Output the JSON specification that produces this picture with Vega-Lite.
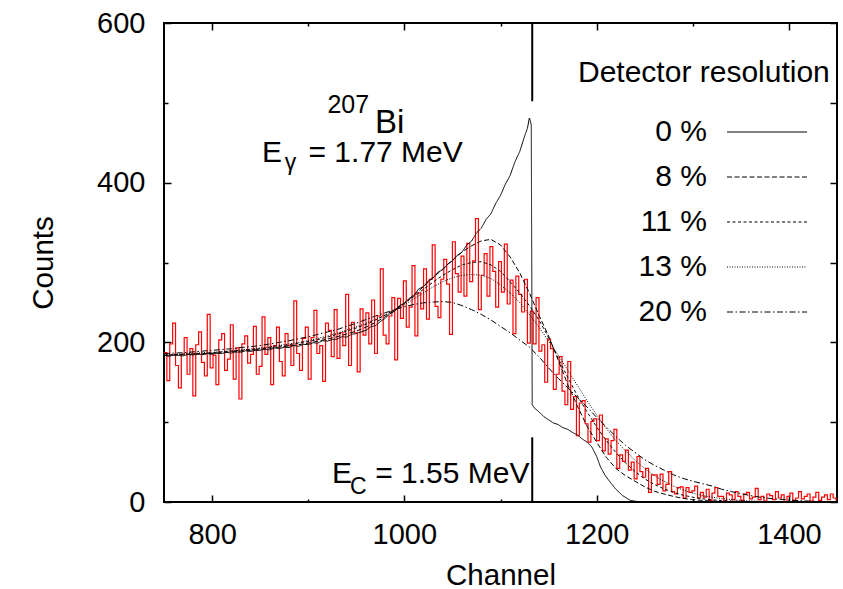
{
"$schema": "https://vega.github.io/schema/vega-lite/v6.json",
"width": 673, "height": 479,
"autosize": {"type": "none"},
"padding": {"left": 164, "top": 23, "right": 6, "bottom": 87},
"background": "white",
"config": {
  "font": "Liberation Sans",
  "view": {"stroke": "black", "strokeWidth": 2},
  "axis": {"grid": false, "domain": false, "tickColor": "black", "tickWidth": 1.5, "labelColor": "black", "labelFontSize": 29, "labelFont": "Liberation Sans", "titleFont": "Liberation Sans", "titleFontSize": 29.5, "titleFontWeight": "normal", "titleColor": "black"}
},
"datasets": {
"measured": [
{"ch":750,"n":187},{"ch":753,"n":152},{"ch":756,"n":198},{"ch":759,"n":224},{"ch":762,"n":171},{"ch":765,"n":143},{"ch":768,"n":185},{"ch":771,"n":206},{"ch":774,"n":160},{"ch":777,"n":192},
{"ch":780,"n":133},{"ch":783,"n":197},{"ch":786,"n":213},{"ch":789,"n":175},{"ch":792,"n":158},{"ch":795,"n":235},{"ch":798,"n":168},{"ch":801,"n":184},{"ch":804,"n":147},{"ch":807,"n":203},
{"ch":810,"n":211},{"ch":813,"n":165},{"ch":816,"n":179},{"ch":819,"n":222},{"ch":822,"n":154},{"ch":825,"n":193},{"ch":828,"n":129},{"ch":831,"n":198},{"ch":834,"n":208},{"ch":837,"n":174},
{"ch":840,"n":185},{"ch":843,"n":220},{"ch":846,"n":160},{"ch":849,"n":170},{"ch":852,"n":232},{"ch":855,"n":185},{"ch":858,"n":206},{"ch":861,"n":147},{"ch":864,"n":196},{"ch":867,"n":219},
{"ch":870,"n":176},{"ch":873,"n":158},{"ch":876,"n":211},{"ch":879,"n":196},{"ch":882,"n":171},{"ch":885,"n":252},{"ch":888,"n":186},{"ch":891,"n":165},{"ch":894,"n":205},{"ch":897,"n":219},
{"ch":900,"n":154},{"ch":903,"n":206},{"ch":906,"n":240},{"ch":909,"n":186},{"ch":912,"n":196},{"ch":915,"n":151},{"ch":918,"n":224},{"ch":921,"n":215},{"ch":924,"n":182},{"ch":927,"n":241},
{"ch":930,"n":180},{"ch":933,"n":212},{"ch":936,"n":196},{"ch":939,"n":260},{"ch":942,"n":171},{"ch":945,"n":225},{"ch":948,"n":212},{"ch":951,"n":163},{"ch":954,"n":242},{"ch":957,"n":209},
{"ch":960,"n":237},{"ch":963,"n":198},{"ch":966,"n":253},{"ch":969,"n":186},{"ch":972,"n":233},{"ch":975,"n":292},{"ch":978,"n":209},{"ch":981,"n":198},{"ch":984,"n":233},{"ch":987,"n":256},
{"ch":990,"n":178},{"ch":993,"n":255},{"ch":996,"n":230},{"ch":999,"n":277},{"ch":1002,"n":219},{"ch":1005,"n":244},{"ch":1008,"n":296},{"ch":1011,"n":208},{"ch":1014,"n":262},{"ch":1017,"n":242},
{"ch":1020,"n":292},{"ch":1023,"n":229},{"ch":1026,"n":279},{"ch":1029,"n":322},{"ch":1032,"n":245},{"ch":1035,"n":231},{"ch":1038,"n":279},{"ch":1041,"n":304},{"ch":1044,"n":273},{"ch":1047,"n":210},
{"ch":1050,"n":326},{"ch":1053,"n":286},{"ch":1056,"n":263},{"ch":1059,"n":308},{"ch":1062,"n":258},{"ch":1065,"n":324},{"ch":1068,"n":276},{"ch":1071,"n":302},{"ch":1074,"n":355},{"ch":1077,"n":241},
{"ch":1080,"n":284},{"ch":1083,"n":311},{"ch":1086,"n":258},{"ch":1089,"n":320},{"ch":1092,"n":289},{"ch":1095,"n":244},{"ch":1098,"n":301},{"ch":1101,"n":263},{"ch":1104,"n":323},{"ch":1107,"n":248},
{"ch":1110,"n":278},{"ch":1113,"n":211},{"ch":1116,"n":283},{"ch":1119,"n":260},{"ch":1122,"n":238},{"ch":1125,"n":279},{"ch":1128,"n":199},{"ch":1131,"n":239},{"ch":1134,"n":198},{"ch":1137,"n":256},
{"ch":1140,"n":189},{"ch":1143,"n":197},{"ch":1146,"n":150},{"ch":1149,"n":204},{"ch":1152,"n":192},{"ch":1155,"n":141},{"ch":1158,"n":160},{"ch":1161,"n":182},{"ch":1164,"n":139},{"ch":1167,"n":122},
{"ch":1170,"n":176},{"ch":1173,"n":116},{"ch":1176,"n":132},{"ch":1179,"n":83},{"ch":1182,"n":124},{"ch":1185,"n":127},{"ch":1188,"n":98},{"ch":1191,"n":75},{"ch":1194,"n":101},{"ch":1197,"n":104},
{"ch":1200,"n":77},{"ch":1203,"n":109},{"ch":1206,"n":64},{"ch":1209,"n":79},{"ch":1212,"n":60},{"ch":1215,"n":77},{"ch":1218,"n":91},{"ch":1221,"n":42},{"ch":1224,"n":59},{"ch":1227,"n":51},
{"ch":1230,"n":65},{"ch":1233,"n":40},{"ch":1236,"n":50},{"ch":1239,"n":29},{"ch":1242,"n":57},{"ch":1245,"n":38},{"ch":1248,"n":31},{"ch":1251,"n":42},{"ch":1254,"n":12},{"ch":1257,"n":34},
{"ch":1260,"n":34},{"ch":1263,"n":22},{"ch":1266,"n":35},{"ch":1269,"n":14},{"ch":1272,"n":22},{"ch":1275,"n":38},{"ch":1278,"n":13},{"ch":1281,"n":10},{"ch":1284,"n":18},{"ch":1287,"n":19},
{"ch":1290,"n":5},{"ch":1293,"n":18},{"ch":1296,"n":12},{"ch":1299,"n":14},{"ch":1302,"n":20},{"ch":1305,"n":5},{"ch":1308,"n":12},{"ch":1311,"n":6},{"ch":1314,"n":16},{"ch":1317,"n":2},
{"ch":1320,"n":11},{"ch":1323,"n":18},{"ch":1326,"n":7},{"ch":1329,"n":7},{"ch":1332,"n":1},{"ch":1335,"n":11},{"ch":1338,"n":9},{"ch":1341,"n":3},{"ch":1344,"n":13},{"ch":1347,"n":7},
{"ch":1350,"n":2},{"ch":1353,"n":10},{"ch":1356,"n":12},{"ch":1359,"n":4},{"ch":1362,"n":6},{"ch":1365,"n":17},{"ch":1368,"n":3},{"ch":1371,"n":7},{"ch":1374,"n":1},{"ch":1377,"n":10},
{"ch":1380,"n":8},{"ch":1383,"n":3},{"ch":1386,"n":13},{"ch":1389,"n":5},{"ch":1392,"n":9},{"ch":1395,"n":0},{"ch":1398,"n":7},{"ch":1401,"n":11},{"ch":1404,"n":2},{"ch":1407,"n":5},
{"ch":1410,"n":13},{"ch":1413,"n":4},{"ch":1416,"n":7},{"ch":1419,"n":10},{"ch":1422,"n":1},{"ch":1425,"n":6},{"ch":1428,"n":12},{"ch":1431,"n":2},{"ch":1434,"n":6},{"ch":1437,"n":9},
{"ch":1440,"n":3},{"ch":1443,"n":10},{"ch":1446,"n":5},{"ch":1449,"n":2}
],
"curves": [
{"ch":750,"n":184,"res":"0 %"},{"ch":755,"n":182.5,"res":"0 %"},{"ch":760,"n":184,"res":"0 %"},{"ch":765,"n":183.5,"res":"0 %"},{"ch":770,"n":183,"res":"0 %"},{"ch":775,"n":185,"res":"0 %"},{"ch":780,"n":184,"res":"0 %"},{"ch":785,"n":185.5,"res":"0 %"},{"ch":790,"n":184.5,"res":"0 %"},{"ch":795,"n":186,"res":"0 %"},
{"ch":800,"n":185,"res":"0 %"},{"ch":805,"n":186.5,"res":"0 %"},{"ch":810,"n":186,"res":"0 %"},{"ch":815,"n":187.5,"res":"0 %"},{"ch":820,"n":186.5,"res":"0 %"},{"ch":825,"n":188,"res":"0 %"},{"ch":830,"n":187.5,"res":"0 %"},{"ch":835,"n":189.5,"res":"0 %"},{"ch":840,"n":188.5,"res":"0 %"},{"ch":845,"n":190,"res":"0 %"},
{"ch":850,"n":190,"res":"0 %"},{"ch":855,"n":191.5,"res":"0 %"},{"ch":860,"n":190.5,"res":"0 %"},{"ch":865,"n":193,"res":"0 %"},{"ch":870,"n":192,"res":"0 %"},{"ch":875,"n":194,"res":"0 %"},{"ch":880,"n":193.5,"res":"0 %"},{"ch":885,"n":196,"res":"0 %"},{"ch":890,"n":195,"res":"0 %"},{"ch":895,"n":197.5,"res":"0 %"},
{"ch":900,"n":197,"res":"0 %"},{"ch":905,"n":199.5,"res":"0 %"},{"ch":910,"n":199,"res":"0 %"},{"ch":915,"n":202,"res":"0 %"},{"ch":920,"n":201.5,"res":"0 %"},{"ch":925,"n":203.5,"res":"0 %"},{"ch":930,"n":204,"res":"0 %"},{"ch":935,"n":207,"res":"0 %"},{"ch":940,"n":206.5,"res":"0 %"},{"ch":945,"n":210,"res":"0 %"},
{"ch":950,"n":211,"res":"0 %"},{"ch":955,"n":213,"res":"0 %"},{"ch":960,"n":215,"res":"0 %"},{"ch":965,"n":219.5,"res":"0 %"},{"ch":970,"n":221,"res":"0 %"},{"ch":975,"n":226,"res":"0 %"},{"ch":980,"n":230,"res":"0 %"},{"ch":985,"n":236,"res":"0 %"},{"ch":990,"n":239,"res":"0 %"},{"ch":995,"n":246,"res":"0 %"},
{"ch":1000,"n":249,"res":"0 %"},{"ch":1005,"n":255,"res":"0 %"},{"ch":1010,"n":259,"res":"0 %"},{"ch":1015,"n":267,"res":"0 %"},{"ch":1020,"n":270,"res":"0 %"},{"ch":1025,"n":277,"res":"0 %"},{"ch":1030,"n":281,"res":"0 %"},{"ch":1035,"n":288,"res":"0 %"},{"ch":1040,"n":291,"res":"0 %"},{"ch":1045,"n":298,"res":"0 %"},
{"ch":1050,"n":302,"res":"0 %"},{"ch":1055,"n":309,"res":"0 %"},{"ch":1060,"n":313,"res":"0 %"},{"ch":1065,"n":322,"res":"0 %"},{"ch":1070,"n":327,"res":"0 %"},{"ch":1075,"n":337,"res":"0 %"},{"ch":1080,"n":343,"res":"0 %"},{"ch":1085,"n":354,"res":"0 %"},{"ch":1090,"n":361,"res":"0 %"},{"ch":1095,"n":374,"res":"0 %"},
{"ch":1100,"n":384,"res":"0 %"},{"ch":1105,"n":398,"res":"0 %"},{"ch":1110,"n":409,"res":"0 %"},{"ch":1115,"n":426,"res":"0 %"},{"ch":1120,"n":439,"res":"0 %"},{"ch":1125,"n":458,"res":"0 %"},{"ch":1128,"n":468,"res":"0 %"},{"ch":1130,"n":481,"res":"0 %"},{"ch":1131,"n":478,"res":"0 %"},{"ch":1132,"n":472,"res":"0 %"},
{"ch":1133,"n":122,"res":"0 %"},{"ch":1135,"n":118,"res":"0 %"},{"ch":1140,"n":113,"res":"0 %"},{"ch":1145,"n":107,"res":"0 %"},{"ch":1150,"n":103,"res":"0 %"},{"ch":1155,"n":99,"res":"0 %"},{"ch":1160,"n":97,"res":"0 %"},{"ch":1165,"n":93,"res":"0 %"},{"ch":1170,"n":91,"res":"0 %"},{"ch":1175,"n":87,"res":"0 %"},
{"ch":1180,"n":84,"res":"0 %"},{"ch":1185,"n":79,"res":"0 %"},{"ch":1190,"n":75,"res":"0 %"},{"ch":1195,"n":69,"res":"0 %"},{"ch":1200,"n":57,"res":"0 %"},{"ch":1204,"n":44,"res":"0 %"},{"ch":1209,"n":33,"res":"0 %"},{"ch":1214,"n":25,"res":"0 %"},{"ch":1220,"n":16,"res":"0 %"},{"ch":1227,"n":8,"res":"0 %"},
{"ch":1235,"n":2,"res":"0 %"},{"ch":1245,"n":0,"res":"0 %"},{"ch":1450,"n":0,"res":"0 %"},

{"ch":750,"n":183.5,"res":"8 %"},{"ch":760,"n":184,"res":"8 %"},{"ch":770,"n":184.5,"res":"8 %"},{"ch":780,"n":185,"res":"8 %"},{"ch":790,"n":185.5,"res":"8 %"},{"ch":800,"n":186,"res":"8 %"},{"ch":810,"n":187,"res":"8 %"},{"ch":820,"n":188,"res":"8 %"},{"ch":830,"n":189,"res":"8 %"},{"ch":840,"n":190,"res":"8 %"},
{"ch":850,"n":191,"res":"8 %"},{"ch":860,"n":192.5,"res":"8 %"},{"ch":870,"n":194,"res":"8 %"},{"ch":880,"n":195.5,"res":"8 %"},{"ch":890,"n":197,"res":"8 %"},{"ch":900,"n":199,"res":"8 %"},{"ch":910,"n":201.5,"res":"8 %"},{"ch":920,"n":204,"res":"8 %"},{"ch":930,"n":207,"res":"8 %"},{"ch":940,"n":210.5,"res":"8 %"},
{"ch":950,"n":214,"res":"8 %"},{"ch":960,"n":219,"res":"8 %"},{"ch":970,"n":225,"res":"8 %"},{"ch":980,"n":232,"res":"8 %"},{"ch":990,"n":240,"res":"8 %"},{"ch":1000,"n":249,"res":"8 %"},{"ch":1010,"n":259,"res":"8 %"},{"ch":1020,"n":270,"res":"8 %"},{"ch":1030,"n":281,"res":"8 %"},{"ch":1040,"n":292,"res":"8 %"},
{"ch":1050,"n":303,"res":"8 %"},{"ch":1060,"n":313,"res":"8 %"},{"ch":1070,"n":321,"res":"8 %"},{"ch":1080,"n":327,"res":"8 %"},{"ch":1090,"n":329,"res":"8 %"},{"ch":1100,"n":322,"res":"8 %"},{"ch":1110,"n":307,"res":"8 %"},{"ch":1120,"n":287,"res":"8 %"},{"ch":1130,"n":262,"res":"8 %"},{"ch":1140,"n":234,"res":"8 %"},
{"ch":1150,"n":208,"res":"8 %"},{"ch":1160,"n":178,"res":"8 %"},{"ch":1170,"n":147,"res":"8 %"},{"ch":1180,"n":120,"res":"8 %"},{"ch":1190,"n":95,"res":"8 %"},{"ch":1200,"n":75,"res":"8 %"},{"ch":1210,"n":56,"res":"8 %"},{"ch":1220,"n":42,"res":"8 %"},{"ch":1230,"n":33,"res":"8 %"},{"ch":1240,"n":26,"res":"8 %"},
{"ch":1250,"n":19,"res":"8 %"},{"ch":1260,"n":13.5,"res":"8 %"},{"ch":1270,"n":10,"res":"8 %"},{"ch":1280,"n":7,"res":"8 %"},{"ch":1290,"n":4.5,"res":"8 %"},{"ch":1300,"n":3,"res":"8 %"},{"ch":1310,"n":2,"res":"8 %"},{"ch":1320,"n":1.2,"res":"8 %"},{"ch":1330,"n":0.7,"res":"8 %"},{"ch":1340,"n":0.4,"res":"8 %"},
{"ch":1350,"n":0.2,"res":"8 %"},{"ch":1360,"n":0.1,"res":"8 %"},{"ch":1370,"n":0,"res":"8 %"},{"ch":1450,"n":0,"res":"8 %"},

{"ch":750,"n":184,"res":"11 %"},{"ch":760,"n":184.5,"res":"11 %"},{"ch":770,"n":185,"res":"11 %"},{"ch":780,"n":185.5,"res":"11 %"},{"ch":790,"n":186,"res":"11 %"},{"ch":800,"n":187,"res":"11 %"},{"ch":810,"n":188,"res":"11 %"},{"ch":820,"n":189,"res":"11 %"},{"ch":830,"n":190,"res":"11 %"},{"ch":840,"n":191,"res":"11 %"},
{"ch":850,"n":192,"res":"11 %"},{"ch":860,"n":193.5,"res":"11 %"},{"ch":870,"n":195,"res":"11 %"},{"ch":880,"n":197,"res":"11 %"},{"ch":890,"n":199,"res":"11 %"},{"ch":900,"n":201,"res":"11 %"},{"ch":910,"n":203.5,"res":"11 %"},{"ch":920,"n":206.5,"res":"11 %"},{"ch":930,"n":210,"res":"11 %"},{"ch":940,"n":214,"res":"11 %"},
{"ch":950,"n":218,"res":"11 %"},{"ch":960,"n":222.5,"res":"11 %"},{"ch":970,"n":228,"res":"11 %"},{"ch":980,"n":234,"res":"11 %"},{"ch":990,"n":241,"res":"11 %"},{"ch":1000,"n":249,"res":"11 %"},{"ch":1010,"n":257.5,"res":"11 %"},{"ch":1020,"n":266.5,"res":"11 %"},{"ch":1030,"n":275.5,"res":"11 %"},{"ch":1040,"n":284,"res":"11 %"},
{"ch":1050,"n":291,"res":"11 %"},{"ch":1060,"n":297,"res":"11 %"},{"ch":1070,"n":300,"res":"11 %"},{"ch":1080,"n":301,"res":"11 %"},{"ch":1090,"n":297,"res":"11 %"},{"ch":1100,"n":289,"res":"11 %"},{"ch":1110,"n":276,"res":"11 %"},{"ch":1120,"n":262,"res":"11 %"},{"ch":1130,"n":246,"res":"11 %"},{"ch":1140,"n":228,"res":"11 %"},
{"ch":1150,"n":206,"res":"11 %"},{"ch":1160,"n":180,"res":"11 %"},{"ch":1170,"n":156,"res":"11 %"},{"ch":1180,"n":133,"res":"11 %"},{"ch":1190,"n":113,"res":"11 %"},{"ch":1200,"n":94,"res":"11 %"},{"ch":1210,"n":77,"res":"11 %"},{"ch":1220,"n":62,"res":"11 %"},{"ch":1230,"n":49,"res":"11 %"},{"ch":1240,"n":38,"res":"11 %"},
{"ch":1250,"n":29,"res":"11 %"},{"ch":1260,"n":22,"res":"11 %"},{"ch":1270,"n":16.5,"res":"11 %"},{"ch":1280,"n":12,"res":"11 %"},{"ch":1290,"n":8.5,"res":"11 %"},{"ch":1300,"n":6,"res":"11 %"},{"ch":1310,"n":4,"res":"11 %"},{"ch":1320,"n":2.7,"res":"11 %"},{"ch":1330,"n":1.8,"res":"11 %"},{"ch":1340,"n":1.2,"res":"11 %"},
{"ch":1350,"n":0.8,"res":"11 %"},{"ch":1360,"n":0.5,"res":"11 %"},{"ch":1370,"n":0.3,"res":"11 %"},{"ch":1380,"n":0.2,"res":"11 %"},{"ch":1390,"n":0.1,"res":"11 %"},{"ch":1400,"n":0,"res":"11 %"},{"ch":1450,"n":0,"res":"11 %"},

{"ch":750,"n":184.5,"res":"13 %"},{"ch":760,"n":185,"res":"13 %"},{"ch":770,"n":185.5,"res":"13 %"},{"ch":780,"n":186,"res":"13 %"},{"ch":790,"n":187,"res":"13 %"},{"ch":800,"n":187.5,"res":"13 %"},{"ch":810,"n":188.5,"res":"13 %"},{"ch":820,"n":189.5,"res":"13 %"},{"ch":830,"n":190.5,"res":"13 %"},{"ch":840,"n":191.5,"res":"13 %"},
{"ch":850,"n":193,"res":"13 %"},{"ch":860,"n":194.5,"res":"13 %"},{"ch":870,"n":196,"res":"13 %"},{"ch":880,"n":198,"res":"13 %"},{"ch":890,"n":200,"res":"13 %"},{"ch":900,"n":202,"res":"13 %"},{"ch":910,"n":205,"res":"13 %"},{"ch":920,"n":208,"res":"13 %"},{"ch":930,"n":211.5,"res":"13 %"},{"ch":940,"n":215.5,"res":"13 %"},
{"ch":950,"n":219.5,"res":"13 %"},{"ch":960,"n":224,"res":"13 %"},{"ch":970,"n":229,"res":"13 %"},{"ch":980,"n":234.5,"res":"13 %"},{"ch":990,"n":240.5,"res":"13 %"},{"ch":1000,"n":247,"res":"13 %"},{"ch":1010,"n":254.5,"res":"13 %"},{"ch":1020,"n":262,"res":"13 %"},{"ch":1030,"n":269.5,"res":"13 %"},{"ch":1040,"n":276,"res":"13 %"},
{"ch":1050,"n":281,"res":"13 %"},{"ch":1060,"n":284,"res":"13 %"},{"ch":1070,"n":285,"res":"13 %"},{"ch":1080,"n":284,"res":"13 %"},{"ch":1090,"n":280,"res":"13 %"},{"ch":1100,"n":272,"res":"13 %"},{"ch":1110,"n":262,"res":"13 %"},{"ch":1120,"n":250,"res":"13 %"},{"ch":1130,"n":235,"res":"13 %"},{"ch":1140,"n":219,"res":"13 %"},
{"ch":1150,"n":202,"res":"13 %"},{"ch":1160,"n":184,"res":"13 %"},{"ch":1170,"n":165,"res":"13 %"},{"ch":1180,"n":146,"res":"13 %"},{"ch":1190,"n":127,"res":"13 %"},{"ch":1200,"n":109,"res":"13 %"},{"ch":1210,"n":92,"res":"13 %"},{"ch":1220,"n":77,"res":"13 %"},{"ch":1230,"n":64,"res":"13 %"},{"ch":1240,"n":52,"res":"13 %"},
{"ch":1250,"n":42,"res":"13 %"},{"ch":1260,"n":33,"res":"13 %"},{"ch":1270,"n":26,"res":"13 %"},{"ch":1280,"n":20,"res":"13 %"},{"ch":1290,"n":15,"res":"13 %"},{"ch":1300,"n":11,"res":"13 %"},{"ch":1310,"n":8,"res":"13 %"},{"ch":1320,"n":6,"res":"13 %"},{"ch":1330,"n":4.3,"res":"13 %"},{"ch":1340,"n":3,"res":"13 %"},
{"ch":1350,"n":2,"res":"13 %"},{"ch":1360,"n":1.4,"res":"13 %"},{"ch":1370,"n":0.9,"res":"13 %"},{"ch":1380,"n":0.6,"res":"13 %"},{"ch":1390,"n":0.4,"res":"13 %"},{"ch":1400,"n":0.2,"res":"13 %"},{"ch":1410,"n":0.1,"res":"13 %"},{"ch":1420,"n":0,"res":"13 %"},{"ch":1450,"n":0,"res":"13 %"},

{"ch":750,"n":186,"res":"20 %"},{"ch":760,"n":186.5,"res":"20 %"},{"ch":770,"n":187,"res":"20 %"},{"ch":780,"n":188,"res":"20 %"},{"ch":790,"n":189,"res":"20 %"},{"ch":800,"n":190,"res":"20 %"},{"ch":810,"n":191,"res":"20 %"},{"ch":820,"n":192,"res":"20 %"},{"ch":830,"n":193.5,"res":"20 %"},{"ch":840,"n":194.5,"res":"20 %"},
{"ch":850,"n":196,"res":"20 %"},{"ch":860,"n":198,"res":"20 %"},{"ch":870,"n":200,"res":"20 %"},{"ch":880,"n":202,"res":"20 %"},{"ch":890,"n":204.5,"res":"20 %"},{"ch":900,"n":207,"res":"20 %"},{"ch":910,"n":210,"res":"20 %"},{"ch":920,"n":213,"res":"20 %"},{"ch":930,"n":216,"res":"20 %"},{"ch":940,"n":220,"res":"20 %"},
{"ch":950,"n":224,"res":"20 %"},{"ch":960,"n":228.5,"res":"20 %"},{"ch":970,"n":233,"res":"20 %"},{"ch":980,"n":237,"res":"20 %"},{"ch":990,"n":241,"res":"20 %"},{"ch":1000,"n":244.5,"res":"20 %"},{"ch":1010,"n":247.5,"res":"20 %"},{"ch":1020,"n":249.5,"res":"20 %"},{"ch":1030,"n":250.5,"res":"20 %"},{"ch":1040,"n":251,"res":"20 %"},
{"ch":1050,"n":250,"res":"20 %"},{"ch":1060,"n":246,"res":"20 %"},{"ch":1070,"n":241,"res":"20 %"},{"ch":1080,"n":235,"res":"20 %"},{"ch":1090,"n":228,"res":"20 %"},{"ch":1100,"n":220,"res":"20 %"},{"ch":1110,"n":212,"res":"20 %"},{"ch":1120,"n":203,"res":"20 %"},{"ch":1130,"n":194,"res":"20 %"},{"ch":1140,"n":182,"res":"20 %"},
{"ch":1150,"n":168,"res":"20 %"},{"ch":1160,"n":155,"res":"20 %"},{"ch":1170,"n":143,"res":"20 %"},{"ch":1180,"n":131,"res":"20 %"},{"ch":1190,"n":119,"res":"20 %"},{"ch":1200,"n":106,"res":"20 %"},{"ch":1210,"n":94,"res":"20 %"},{"ch":1220,"n":82,"res":"20 %"},{"ch":1230,"n":71,"res":"20 %"},{"ch":1240,"n":62,"res":"20 %"},
{"ch":1250,"n":53,"res":"20 %"},{"ch":1260,"n":46,"res":"20 %"},{"ch":1270,"n":40,"res":"20 %"},{"ch":1280,"n":34,"res":"20 %"},{"ch":1290,"n":29.5,"res":"20 %"},{"ch":1300,"n":26,"res":"20 %"},{"ch":1310,"n":23,"res":"20 %"},{"ch":1320,"n":20,"res":"20 %"},{"ch":1330,"n":16,"res":"20 %"},{"ch":1340,"n":13,"res":"20 %"},
{"ch":1350,"n":10.5,"res":"20 %"},{"ch":1360,"n":8,"res":"20 %"},{"ch":1370,"n":6,"res":"20 %"},{"ch":1380,"n":4.5,"res":"20 %"},{"ch":1390,"n":3.5,"res":"20 %"},{"ch":1400,"n":2.5,"res":"20 %"},{"ch":1410,"n":1.8,"res":"20 %"},{"ch":1420,"n":1.2,"res":"20 %"},{"ch":1430,"n":0.8,"res":"20 %"},{"ch":1440,"n":0.5,"res":"20 %"},
{"ch":1450,"n":0.3,"res":"20 %"}
]
},
"layer": [
{
  "data": {"name": "measured"},
  "mark": {"type": "line", "interpolate": "step-after", "color": "#ff0000", "strokeWidth": 1.2},
  "encoding": {
    "x": {"field": "ch", "type": "quantitative", "scale": {"domain": [750, 1450], "nice": false, "zero": false},
      "axis": {"orient": "bottom", "values": [800, 900, 1000, 1100, 1200, 1300, 1400], "format": "d", "labelExpr": "datum.value % 200 == 0 ? datum.label : ''",
        "tickSize": {"condition": {"test": "datum.value % 200 == 0", "value": -7}, "value": -3},
        "labelPadding": 25, "title": "Channel", "titleY": 82, "titleBaseline": "alphabetic"}},
    "y": {"field": "n", "type": "quantitative", "scale": {"domain": [0, 600], "nice": false},
      "axis": {"orient": "left", "values": [0, 100, 200, 300, 400, 500, 600], "format": "d", "labelExpr": "datum.value % 200 == 0 ? datum.label : ''",
        "tickSize": {"condition": {"test": "datum.value % 200 == 0", "value": -7}, "value": -4},
        "labelPadding": 26, "title": "Counts", "titleX": -112, "titleY": 239.5, "titleBaseline": "alphabetic"}}
  }
},
{
  "data": {"name": "curves"},
  "mark": {"type": "line", "color": "black", "strokeWidth": 1},
  "encoding": {
    "x": {"field": "ch", "type": "quantitative", "scale": {"domain": [750, 1450], "nice": false, "zero": false}, "axis": null},
    "y": {"field": "n", "type": "quantitative", "scale": {"domain": [0, 600], "nice": false}, "axis": null},
    "strokeDash": {"field": "res", "type": "nominal",
      "scale": {"domain": ["0 %", "8 %", "11 %", "13 %", "20 %"], "range": [[1, 0], [5, 2.5], [3, 2.5], [1, 1.5], [6, 2.5, 1.5, 2.5]]},
      "legend": {"title": "Detector resolution", "orient": "none", "legendX": 414, "legendY": 35, "padding": 0,
        "titleFontSize": 30, "titleFontWeight": "normal", "titleColor": "black", "titleFont": "Liberation Sans", "titlePadding": 29, "titleAnchor": "start", "titleLimit": 400,
        "labelFontSize": 30, "labelColor": "black", "labelFont": "Liberation Sans", "labelLimit": 200,
        "symbolType": "M-16,0H16", "symbolSize": 25, "symbolStrokeWidth": 1, "symbolStrokeColor": "black", "symbolFillColor": "transparent",
        "rowPadding": 15,
        "encode": {"labels": {"update": {"x": {"value": 129}, "align": {"value": "right"}}}, "symbols": {"update": {"x": {"value": 189}}}}}}
  }
},
{
  "data": {"values": [{"ch": 1133, "lo": 502, "hi": 600}, {"ch": 1133, "lo": 0, "hi": 81}]},
  "mark": {"type": "rule", "color": "black", "strokeWidth": 2},
  "encoding": {
    "x": {"field": "ch", "type": "quantitative", "scale": {"domain": [750, 1450], "nice": false, "zero": false},
      "axis": {"orient": "top", "values": [800, 900, 1000, 1100, 1200, 1300, 1400], "labels": false, "title": null,
        "tickSize": {"condition": {"test": "datum.value % 200 == 0", "value": -7}, "value": -3}}},
    "y": {"field": "lo", "type": "quantitative", "scale": {"domain": [0, 600], "nice": false},
      "axis": {"orient": "right", "values": [0, 100, 200, 300, 400, 500, 600], "labels": false, "title": null, "tickSize": -7}},
    "y2": {"field": "hi"}
  }
},
{
  "data": {"values": [{"ch": 851.9, "n": 425.9, "t": "E"}, {"ch": 900.3, "n": 425.9, "t": "= 1.77 MeV"}, {"ch": 924.7, "n": 23.8, "t": "E"}, {"ch": 969.6, "n": 23.8, "t": "= 1.55 MeV"}]},
  "mark": {"type": "text", "align": "left", "baseline": "alphabetic", "fontSize": 30, "color": "black", "font": "Liberation Sans"},
  "encoding": {
    "x": {"field": "ch", "type": "quantitative", "scale": {"domain": [750, 1450], "nice": false, "zero": false}, "axis": null},
    "y": {"field": "n", "type": "quantitative", "scale": {"domain": [0, 600], "nice": false}, "axis": null},
    "text": {"field": "t"}
  }
},
{
  "data": {"values": [{"ch": 875.5, "n": 416, "t": "γ"}, {"ch": 943.5, "n": 10, "t": "C"}]},
  "mark": {"type": "text", "align": "left", "baseline": "alphabetic", "fontSize": 23, "color": "black", "font": "Liberation Sans"},
  "encoding": {
    "x": {"field": "ch", "type": "quantitative", "scale": {"domain": [750, 1450], "nice": false, "zero": false}, "axis": null},
    "y": {"field": "n", "type": "quantitative", "scale": {"domain": [0, 600], "nice": false}, "axis": null},
    "text": {"field": "t"}
  }
},
{
  "data": {"values": [{"ch": 920, "n": 487.3, "t": "207"}]},
  "mark": {"type": "text", "align": "left", "baseline": "alphabetic", "fontSize": 25, "color": "black", "font": "Liberation Sans"},
  "encoding": {
    "x": {"field": "ch", "type": "quantitative", "scale": {"domain": [750, 1450], "nice": false, "zero": false}, "axis": null},
    "y": {"field": "n", "type": "quantitative", "scale": {"domain": [0, 600], "nice": false}, "axis": null},
    "text": {"field": "t"}
  }
},
{
  "data": {"values": [{"ch": 969.5, "n": 462.2, "t": "Bi"}]},
  "mark": {"type": "text", "align": "left", "baseline": "alphabetic", "fontSize": 33, "color": "black", "font": "Liberation Sans"},
  "encoding": {
    "x": {"field": "ch", "type": "quantitative", "scale": {"domain": [750, 1450], "nice": false, "zero": false}, "axis": null},
    "y": {"field": "n", "type": "quantitative", "scale": {"domain": [0, 600], "nice": false}, "axis": null},
    "text": {"field": "t"}
  }
}
],
"resolve": {"axis": {"x": "independent", "y": "independent"}}
}
